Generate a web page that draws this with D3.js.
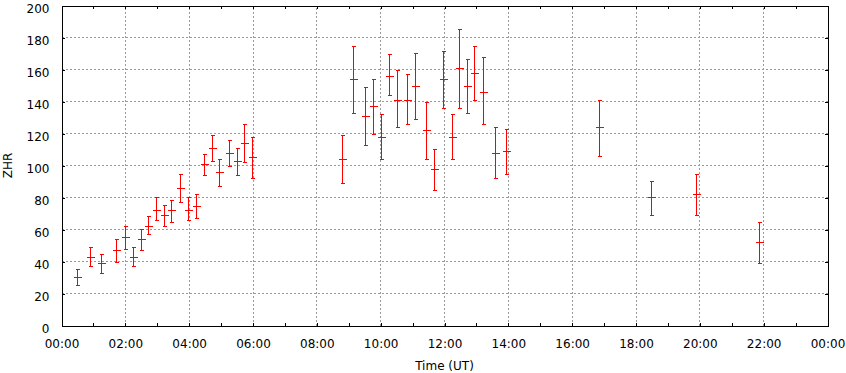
<!DOCTYPE html>
<html>
<head>
<meta charset="utf-8">
<script src="https://cdn.jsdelivr.net/npm/d3@7"></script>
<style>
  body { margin: 0; background: #fff; }
  svg { display: block; font-family: "DejaVu Sans", Verdana, sans-serif; }
</style>
</head>
<body>
<script>
// observation times (UT), ZHR and its error range
const times = ["00:30", "00:54", "01:15", "01:42", "01:59", "02:14", "02:29", "02:42", "02:58", "03:12",
  "03:26", "03:42", "03:57", "04:13", "04:27", "04:42", "04:57", "05:14", "05:29", "05:43",
  "05:59", "08:47", "09:08", "09:30", "09:45", "10:00", "10:15", "10:30", "10:50", "11:05",
  "11:25", "11:41", "11:58", "12:15", "12:28", "12:43", "12:56", "13:13", "13:34", "13:56",
  "16:50", "18:29", "19:52", "21:52"];
const zhr = [30.5, 43, 39, 47, 55, 43, 54, 62, 72, 69,
  72, 86, 72, 75, 101, 111, 96, 108, 103, 114,
  105, 104, 154, 131, 137, 118, 156, 141, 141, 150,
  122, 98, 154, 118, 161, 150, 158, 146, 108, 109,
  124, 80, 82, 52];
const zhrLow = [25.5, 37, 33, 40, 48, 37, 47, 57, 66, 62,
  65, 77, 66, 67, 94, 103, 87, 100, 94, 102,
  92, 89, 133, 113, 120, 104, 144, 124, 126, 129,
  104, 85, 136, 104, 136, 133, 141, 126, 92, 95,
  106, 69, 69, 39];
const zhrHigh = [35.5, 49, 45, 54, 62, 49, 60.5, 68.5, 80, 75.5,
  78.5, 95, 80, 82.5, 107.5, 119, 104, 116, 111, 126,
  118, 119, 174.5, 149, 154, 132, 169.5, 159.5, 157.5, 170.5,
  139.5, 110.5, 171.5, 132, 185.5, 166.5, 174.5, 167.5, 124, 122.5,
  141, 90.5, 95, 65];
const yTicks = [0, 20, 40, 60, 80, 100, 120, 140, 160, 180, 200];
const xTicks = d3.range(0, 25, 2);

const width = 846;
const height = 373;
const margin = { top: 5.5, right: 18.5, bottom: 47.5, left: 61.5 };

const toHours = (s) => {
  const [h, m] = s.split(":").map(Number);
  return h + m / 60;
};
const data = times.map((t, i) => ({
  t: toHours(t),
  v: zhr[i],
  lo: zhrLow[i],
  hi: zhrHigh[i],
}));

const x = d3.scaleLinear().domain([0, 24]).range([margin.left, width - margin.right]);
const y = d3.scaleLinear().domain([0, 200]).range([height - margin.bottom, margin.top]);

const svg = d3.select("body").append("svg").attr("width", width).attr("height", height);

const fmt = (h) => (h % 24 < 10 ? "0" : "") + (h % 24) + ":00";

// grid
const grid = svg.append("g")
  .attr("stroke", "#999")
  .attr("stroke-dasharray", "2,2")
  .attr("shape-rendering", "crispEdges");
grid.selectAll("line.h")
  .data(yTicks.slice(1, -1))
  .join("line")
  .attr("x1", x(0)).attr("x2", x(24))
  .attr("y1", (d) => y(d)).attr("y2", (d) => y(d));
grid.selectAll("line.v")
  .data(xTicks.slice(1, -1))
  .join("line")
  .attr("y1", y(0)).attr("y2", y(200))
  .attr("x1", (d) => x(d)).attr("x2", (d) => x(d));

// axes, ticks point inward
const axBottom = svg.append("g")
  .attr("transform", `translate(0,${y(0)})`)
  .call(d3.axisBottom(x).tickValues(d3.range(0, 25)).tickSize(-3).tickPadding(14)
    .tickFormat((d) => (d % 2 === 0 ? fmt(d) : "")));
const axTop = svg.append("g")
  .attr("transform", `translate(0,${y(200)})`)
  .call(d3.axisTop(x).tickValues(d3.range(0, 25)).tickSize(-3).tickFormat(""));
const axLeft = svg.append("g")
  .attr("transform", `translate(${x(0)},0)`)
  .call(d3.axisLeft(y).tickValues(yTicks).tickSize(-3).tickPadding(12));
const axRight = svg.append("g")
  .attr("transform", `translate(${x(24)},0)`)
  .call(d3.axisRight(y).tickValues(yTicks).tickSize(-3).tickFormat(""));

[axBottom, axTop, axLeft, axRight].forEach((g) => {
  g.attr("shape-rendering", "crispEdges");
  g.selectAll("path, line").attr("stroke", "#000");
  g.selectAll("text").attr("font-size", 12).attr("fill", "#000")
    .attr("font-family", "DejaVu Sans, Verdana, sans-serif");
});
axLeft.selectAll("text").attr("dy", "0.58em");

// axis titles
svg.append("text")
  .attr("x", (x(0) + x(24)) / 2)
  .attr("y", 370)
  .attr("text-anchor", "middle")
  .attr("font-size", 12)
  .text("Time (UT)");
svg.append("text")
  .attr("transform", `translate(12,${(y(0) + y(200)) / 2}) rotate(-90)`)
  .attr("text-anchor", "middle")
  .attr("font-size", 12)
  .text("ZHR");

// error bars
const bars = svg.append("g")
  .attr("stroke", "#f00")
  .attr("shape-rendering", "crispEdges")
  .selectAll("g")
  .data(data)
  .join("g")
  .attr("transform", (d) => `translate(${Math.round(x(d.t)) + 0.5},0)`);
bars.append("line")
  .attr("y1", (d) => Math.round(y(d.lo)) + 0.5)
  .attr("y2", (d) => Math.round(y(d.hi)) + 0.5);
bars.append("line")
  .attr("x1", -2).attr("x2", 2)
  .attr("y1", (d) => Math.round(y(d.lo)) + 0.5)
  .attr("y2", (d) => Math.round(y(d.lo)) + 0.5);
bars.append("line")
  .attr("x1", -2).attr("x2", 2)
  .attr("y1", (d) => Math.round(y(d.hi)) + 0.5)
  .attr("y2", (d) => Math.round(y(d.hi)) + 0.5);
bars.append("line")
  .attr("x1", -4).attr("x2", 4)
  .attr("y1", (d) => Math.round(y(d.v)) + 0.5)
  .attr("y2", (d) => Math.round(y(d.v)) + 0.5);
</script>
</body>
</html>
